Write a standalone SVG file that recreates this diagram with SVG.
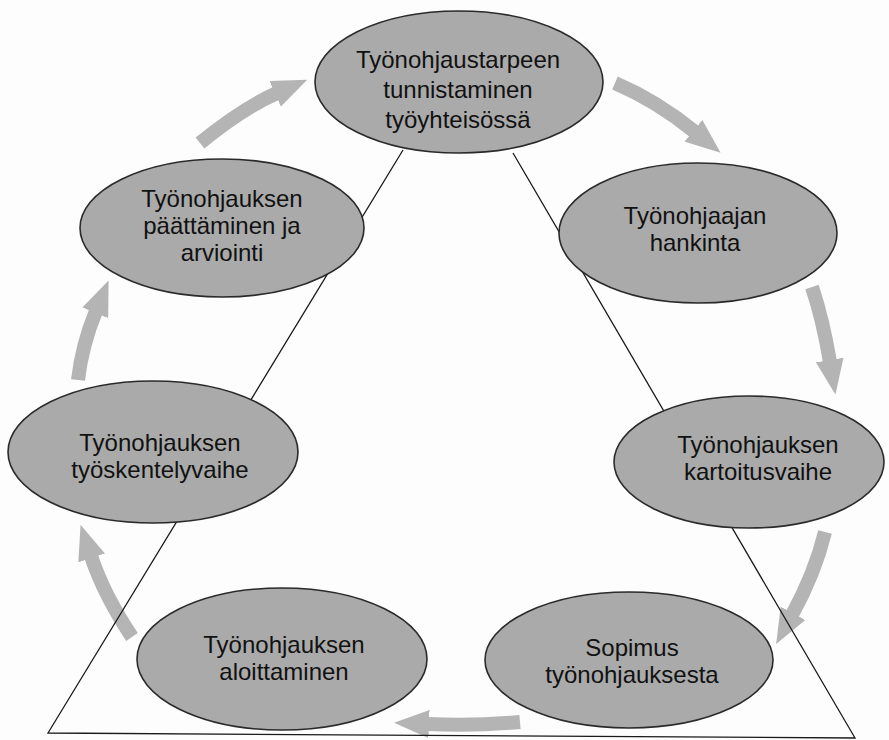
<svg xmlns="http://www.w3.org/2000/svg" width="889" height="740" viewBox="0 0 889 740">
  <defs>
    <marker id="head" markerUnits="userSpaceOnUse" markerWidth="36" markerHeight="28" refX="2" refY="14" orient="auto">
      <path d="M0,0 L35,14 L0,28 Z" fill="#b4b4b4"/>
    </marker>
  </defs>
  <style>
    .bg { fill: #fdfdfd; }
    .arrow { fill: none; stroke: #b4b4b4; stroke-width: 14; marker-end: url(#head); }
    .frame { fill: none; stroke: #1a1a1a; stroke-width: 1.3; }
    .node ellipse { fill: #aaaaaa; stroke: #2a2a2a; stroke-width: 1.6; }
    .node text { font-family: "Liberation Sans", Arial, sans-serif; font-size: 24px; fill: #111; text-anchor: middle; }
  </style>

  <rect class="bg" x="0" y="0" width="889" height="740"/>

  <!-- cycle arrows -->
  <g id="connectors">
    <path class="arrow" d="M200,143 Q243,108 277,93"/>
    <path class="arrow" d="M615,83 Q657,101 695,132"/>
    <path class="arrow" d="M812,287 Q823,320 830,362"/>
    <path class="arrow" d="M825,532 Q815,573 792,615"/>
    <path class="arrow" d="M520,722 Q475,726 427,724"/>
    <path class="arrow" d="M132,637 Q104,595 91,556"/>
    <path class="arrow" d="M78,380 Q82,345 96,311"/>
  </g>

  <!-- triangle behind the ellipses -->
  <g id="frame">
    <polyline class="frame" points="403,150 48,733 855,738 513,153"/>
  </g>

  <g id="n1" class="node">
    <ellipse cx="459" cy="82" rx="144" ry="71"/>
    <text x="458" y="68">Työnohjaustarpeen</text>
    <text x="458" y="98">tunnistaminen</text>
    <text x="458" y="128">työyhteisössä</text>
  </g>

  <g id="n2" class="node">
    <ellipse cx="698" cy="233" rx="139" ry="70"/>
    <text x="695" y="224">Työnohjaajan</text>
    <text x="695" y="251">hankinta</text>
  </g>

  <g id="n3" class="node">
    <ellipse cx="749" cy="462" rx="135" ry="66"/>
    <text x="758" y="453">Työnohjauksen</text>
    <text x="758" y="480">kartoitusvaihe</text>
  </g>

  <g id="n4" class="node">
    <ellipse cx="629" cy="660" rx="144" ry="68"/>
    <text x="632" y="656">Sopimus</text>
    <text x="632" y="683">työnohjauksesta</text>
  </g>

  <g id="n5" class="node">
    <ellipse cx="282" cy="659" rx="145" ry="71"/>
    <text x="284" y="653">Työnohjauksen</text>
    <text x="284" y="680">aloittaminen</text>
  </g>

  <g id="n6" class="node">
    <ellipse cx="153" cy="452" rx="145" ry="71"/>
    <text x="160" y="451">Työnohjauksen</text>
    <text x="160" y="478">työskentelyvaihe</text>
  </g>

  <g id="n7" class="node">
    <ellipse cx="222" cy="228" rx="142" ry="69"/>
    <text x="222" y="207">Työnohjauksen</text>
    <text x="222" y="234">päättäminen ja</text>
    <text x="222" y="261">arviointi</text>
  </g>
</svg>
